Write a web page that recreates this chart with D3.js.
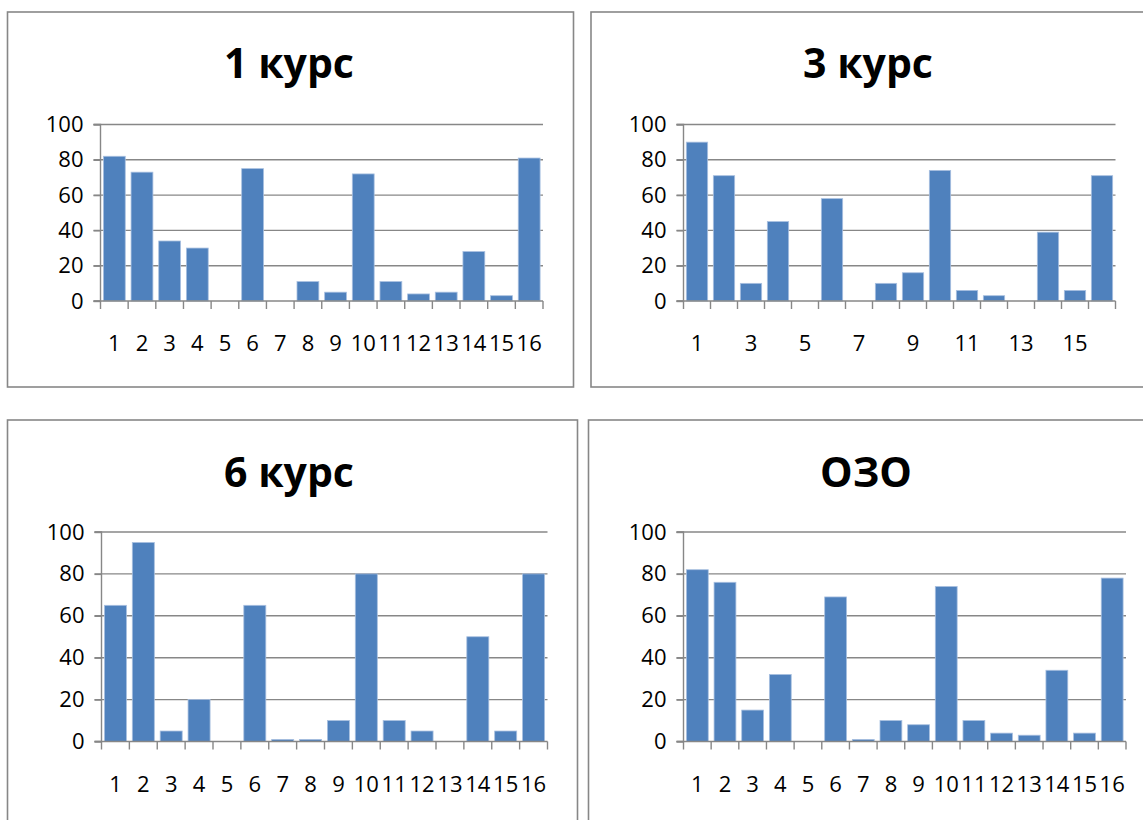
<!DOCTYPE html>
<html>
<head>
<meta charset="utf-8">
<script src="https://cdn.jsdelivr.net/npm/d3@7"></script>
<style>
  html, body { margin: 0; padding: 0; background: #ffffff; }
  svg { display: block; }
  text { font-family: "Open Sans", "Noto Sans", sans-serif; fill: #000; }
</style>
</head>
<body>
<svg id="chart" width="1143" height="820"></svg>
<script>
// ---- data ----
const categories = ["1","2","3","4","5","6","7","8","9","10","11","12","13","14","15","16"];
const yTicks = [0, 20, 40, 60, 80, 100];
const titles = ["1 курс", "3 курс", "6 курс", "ОЗО"];
const course1 = [82, 73, 34, 30, 0, 75, 0, 11, 5, 72, 11, 4, 5, 28, 3, 81];
const course3 = [90, 71, 10, 45, 0, 58, 0, 10, 16, 74, 6, 3, 0, 39, 6, 71];
const course6 = [65, 95, 5, 20, 0, 65, 1, 1, 10, 80, 10, 5, 0, 50, 5, 80];
const ozo     = [82, 76, 15, 32, 0, 69, 1, 10, 8, 74, 10, 4, 3, 34, 4, 78];
const shownLabels3 = ["1","3","5","7","9","11","13","15"];

// ---- layout (positions only) ----
const panels = [
  { title: titles[0], values: course1, labels: categories,
    frame: [7.5, 12, 566, 375], plot: [100.5, 124.5, 543, 301], titleX: 289, titleY: 78 },
  { title: titles[1], values: course3, labels: shownLabels3,
    frame: [591, 12, 600, 375], plot: [683.5, 124.5, 1115.5, 301], titleX: 868, titleY: 78 },
  { title: titles[2], values: course6, labels: categories,
    frame: [7.5, 420, 570, 450], plot: [101.5, 532, 547.5, 741.5], titleX: 289, titleY: 487 },
  { title: titles[3], values: ozo, labels: categories,
    frame: [588.5, 420, 600, 450], plot: [683.5, 532, 1126, 741.5], titleX: 866, titleY: 487 }
];

const svg = d3.select("#chart");
const grey = "#878787";

panels.forEach(p => {
  const g = svg.append("g");
  // frame
  g.append("rect")
    .attr("x", p.frame[0]).attr("y", p.frame[1])
    .attr("width", p.frame[2]).attr("height", p.frame[3])
    .attr("fill", "#fff").attr("stroke", grey).attr("stroke-width", 1.6);

  // title
  g.append("text")
    .attr("x", p.titleX).attr("y", p.titleY)
    .attr("text-anchor", "middle")
    .attr("font-size", 41).attr("font-weight", 700)
    .text(p.title);

  const [x0, y0, x1, y1] = p.plot;
  const x = d3.scaleBand().domain(categories).range([x0, x1])
    .paddingInner(0.21).paddingOuter(0.105);
  const y = d3.scaleLinear().domain([0, 100]).range([y1, y0]);

  // gridlines
  g.append("g").selectAll("line").data(yTicks.filter(t => t > 0)).join("line")
    .attr("x1", x0 - 7).attr("x2", x1)
    .attr("y1", d => y(d)).attr("y2", d => y(d))
    .attr("stroke", grey).attr("stroke-width", 1.4);

  // y axis
  const yAxis = d3.axisLeft(y).tickValues(yTicks).tickSize(7).tickPadding(10);
  const ya = g.append("g").attr("transform", `translate(${x0},0)`).call(yAxis);
  ya.select(".domain").attr("stroke", grey).attr("stroke-width", 1.4)
    .attr("d", `M-7,${y0}H0V${y1}H-7`);
  ya.selectAll(".tick line").attr("stroke", grey).attr("stroke-width", 1.4);
  ya.selectAll(".tick text").attr("font-size", 22)
    .attr("font-family", "Open Sans, sans-serif").attr("fill", "#000");

  // bars
  g.append("g").selectAll("rect").data(p.values).join("rect")
    .attr("x", (d, i) => x(categories[i]))
    .attr("width", x.bandwidth())
    .attr("y", d => y(d))
    .attr("height", d => y1 - y(d))
    .attr("fill", "#4F81BD")
    .attr("stroke", "#A9C0E0").attr("stroke-width", 0.8);

  // x axis baseline with boundary ticks
  const bounds = d3.range(categories.length + 1).map(i => x0 + i * (x1 - x0) / categories.length);
  g.append("line").attr("x1", x0 - 7).attr("x2", x1)
    .attr("y1", y1).attr("y2", y1)
    .attr("stroke", grey).attr("stroke-width", 1.6);
  g.append("g").selectAll("line").data(bounds).join("line")
    .attr("x1", d => d).attr("x2", d => d)
    .attr("y1", y1).attr("y2", y1 + 8)
    .attr("stroke", grey).attr("stroke-width", 1.4);

  // category labels
  g.append("g").selectAll("text").data(p.labels).join("text")
    .attr("x", d => x(d) + x.bandwidth() / 2)
    .attr("y", y1 + 50)
    .attr("text-anchor", "middle")
    .attr("font-size", 22)
    .text(d => d);
});
</script>
</body>
</html>
